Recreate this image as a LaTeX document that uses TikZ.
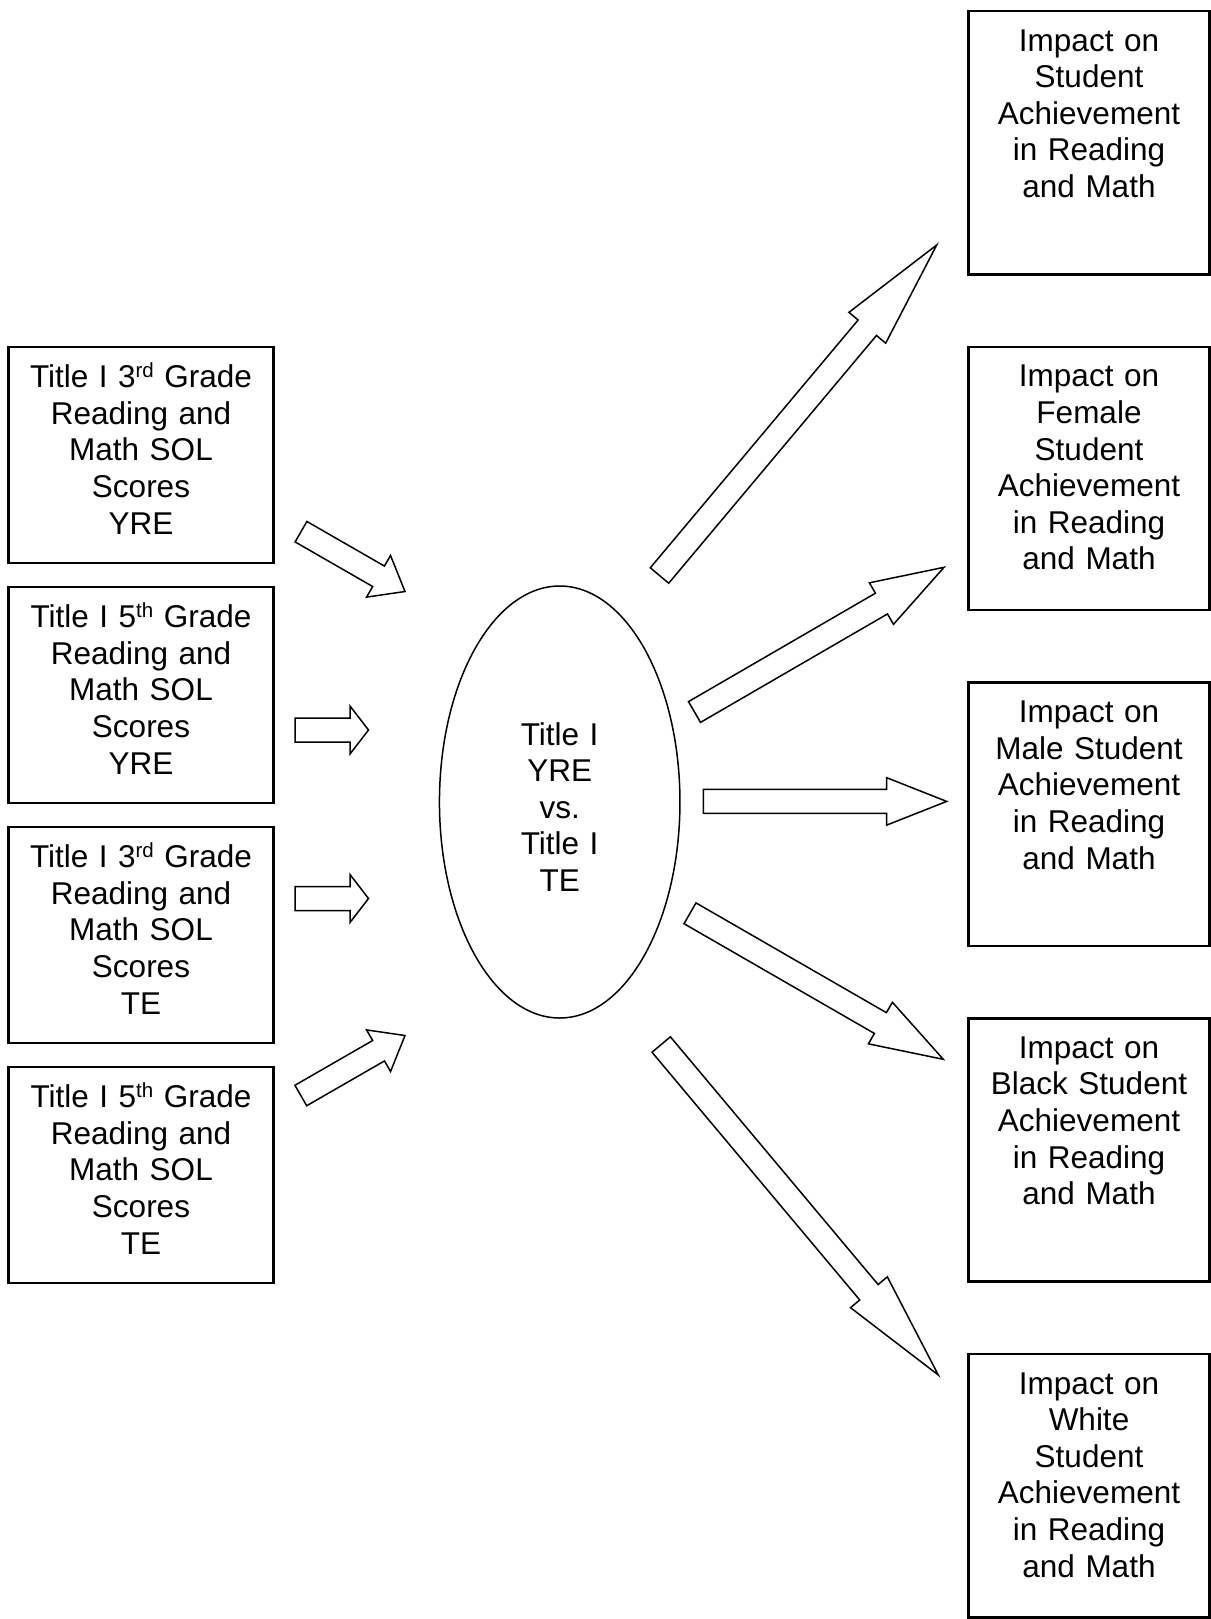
\documentclass[tikz,border=0pt]{standalone}
\usepackage{fontspec}
\setmainfont{Liberation Sans}
\usetikzlibrary{calc,shapes.geometric}
\newcommand\supx[1]{\raisebox{10.5pt}{\fontsize{20.5}{20.5}\selectfont #1}}
\newcommand\blockarrow[5]{%
  \coordinate (#1#2b) at ($(#2)!#5!(#1)$);
  \draw[barrow] ($(#1)!#3!90:(#2)$) -- ($(#1#2b)!#3!90:(#2)$) -- ($(#1#2b)!#4!90:(#2)$) -- (#2)
    -- ($(#1#2b)!#4!-90:(#2)$) -- ($(#1#2b)!#3!-90:(#2)$) -- ($(#1)!#3!-90:(#2)$) -- cycle;
}
\begin{document}
\begin{tikzpicture}[x=1pt,y=-1pt,
  txt/.style={font=\fontsize{31.5}{36.6}\selectfont, align=center, inner sep=0pt},
  lbox/.style={txt, draw, line width=2.4pt, text width=265pt, text height=40.5pt, text depth=175.5pt, anchor=north west},
  rbox/.style={txt, draw, line width=2.4pt, text width=241pt, text height=40pt, text depth=223.3pt, anchor=north west},
  hub/.style={txt, draw, ellipse, line width=1.5pt, text width=100pt, minimum width=240.5pt, minimum height=432pt, text height=22pt, text depth=136pt},
  barrow/.style={draw, line width=1.5pt, line join=miter, fill=white}]
\useasboundingbox (0,0) rectangle (1210,1619);

% left boxes
\node[lbox] (l1) at (7.3,346) {Title I 3\supx{rd} Grade\\Reading and\\Math SOL\\Scores\\YRE};
\node[lbox] (l2) at (7.3,586) {Title I 5\supx{th} Grade\\Reading and\\Math SOL\\Scores\\YRE};
\node[lbox] (l3) at (7.3,826) {Title I 3\supx{rd} Grade\\Reading and\\Math SOL\\Scores\\TE};
\node[lbox] (l4) at (7.3,1066) {Title I 5\supx{th} Grade\\Reading and\\Math SOL\\Scores\\TE};

% right boxes
\node[rbox] (r1) at (967.3,10) {Impact on\\Student\\Achievement\\in Reading\\and Math};
\node[rbox] (r2) at (967.3,345.7) {Impact on\\Female\\Student\\Achievement\\in Reading\\and Math};
\node[rbox] (r3) at (967.3,681.4) {Impact on\\Male Student\\Achievement\\in Reading\\and Math};
\node[rbox] (r4) at (967.3,1017.1) {Impact on\\Black Student\\Achievement\\in Reading\\and Math};
\node[rbox] (r5) at (967.3,1352.8) {Impact on\\White\\Student\\Achievement\\in Reading\\and Math};

% centre
\node[hub] (c) at (559.7,802) {Title I\\YRE\\vs.\\Title I\\TE};

% arrow end points
\coordinate (a1t) at (301,531.7);   \coordinate (a1h) at (405,591.5);
\coordinate (a2t) at (295,730);     \coordinate (a2h) at (368.5,730);
\coordinate (a3t) at (295,898.5);   \coordinate (a3h) at (368.5,898.5);
\coordinate (a4t) at (300.8,1095.5);\coordinate (a4h) at (405,1035.5);
\coordinate (b1t) at (659.5,575.5); \coordinate (b1h) at (936.7,245);
\coordinate (b2t) at (694.5,712);   \coordinate (b2h) at (944,567.3);
\coordinate (b3t) at (703.3,801.4); \coordinate (b3h) at (946.7,801.4);
\coordinate (b4t) at (690,913.3);   \coordinate (b4h) at (943.3,1059.3);
\coordinate (b5t) at (661.2,1044.5);\coordinate (b5h) at (938.3,1375);

\blockarrow{a1t}{a1h}{11.8pt}{24pt}{30.5pt}
\blockarrow{a2t}{a2h}{12pt}{24pt}{18.5pt}
\blockarrow{a3t}{a3h}{12pt}{24pt}{18.5pt}
\blockarrow{a4t}{a4h}{11.8pt}{24pt}{30.5pt}
\blockarrow{b1t}{b1h}{12pt}{24pt}{108pt}
\blockarrow{b2t}{b2h}{12pt}{24pt}{72.3pt}
\blockarrow{b3t}{b3h}{12pt}{23.7pt}{60pt}
\blockarrow{b4t}{b4h}{12pt}{24pt}{72.6pt}
\blockarrow{b5t}{b5h}{12pt}{24pt}{108pt}
\end{tikzpicture}
\end{document}
